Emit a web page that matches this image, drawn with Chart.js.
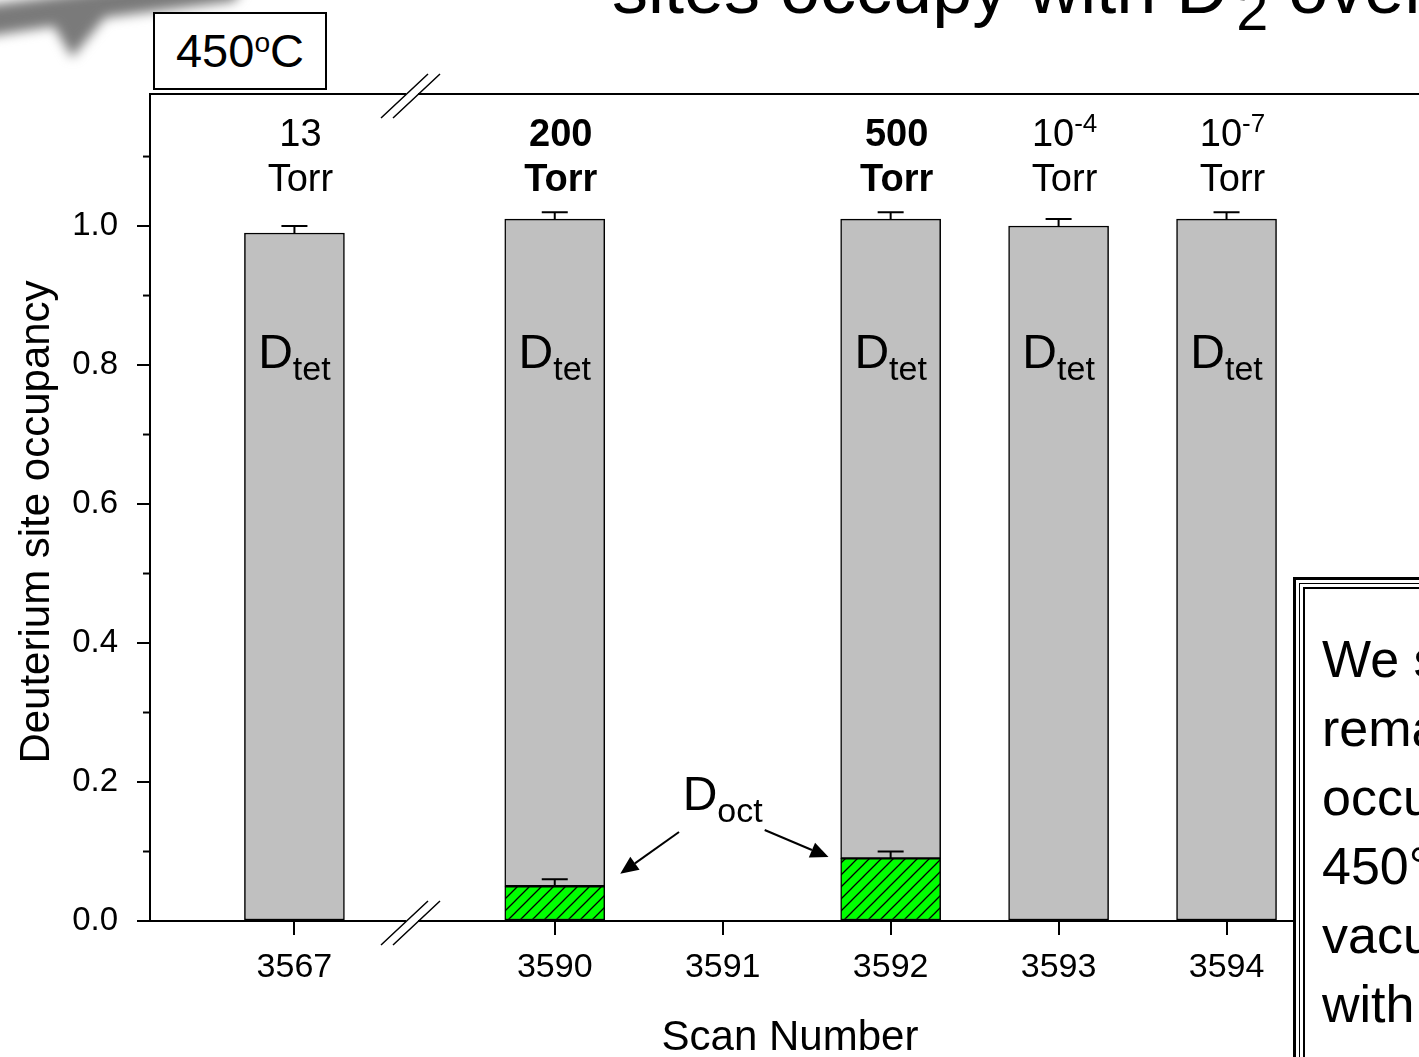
<!DOCTYPE html>
<html>
<head>
<meta charset="utf-8">
<script src="https://cdn.jsdelivr.net/npm/chart.js@4.4.0/dist/chart.umd.min.js"></script>
<style>
html,body{margin:0;padding:0;background:#fff;overflow:hidden;width:1419px;height:1057px;position:relative;font-family:"Liberation Sans",Arial,sans-serif;color:#000}
#wrap{position:absolute;left:0;top:0;width:1700px;height:1057px}
#title{position:absolute;left:612px;top:-48px;font-size:72px;line-height:72px;white-space:nowrap}
#title sub{font-size:0.8em;vertical-align:-0.3em;line-height:0;margin-left:8px}
#swoosh{position:absolute;left:-30px;top:-30px;width:300px;height:125px;filter:blur(6px)}
#swoosh div{position:absolute;left:0;top:0;width:100%;height:100%;background:#7a7a7a;clip-path:polygon(0% 30%,95% 0%,88% 25%,45% 38%,34% 70%,28% 45%,0% 55%)}
#temp{position:absolute;left:153px;top:12px;width:170px;height:74px;border:2px solid #000;background:#fff;font-size:47px;line-height:74px;text-align:center}
#temp sup{font-size:0.6em;vertical-align:0.55em;line-height:0}
#note{position:absolute;left:1293px;top:577px;width:400px;height:600px;border:3px solid #000;padding:3px;background:#fff}
#note .b2{border:1px solid #000;padding:3px;height:100%}
#note .b3{border:2px solid #000;height:100%;padding:36px 0 0 17px;font-size:52px;line-height:69px;white-space:nowrap}
</style>
</head>
<body>
<div id="swoosh"><div></div></div>
<div id="title">sites occupy with D<sub>2</sub> overpressure</div>
<div id="wrap"><canvas id="c" width="1700" height="1057"></canvas></div>
<div id="temp">450<sup>o</sup>C</div>
<div id="note"><div class="b2"><div class="b3">We see D<br>remains<br>occupying<br>450°C in<br>vacuum<br>with no</div></div></div>
<script>
// values
const scans     = [3567, 3590, 3591, 3592, 3593, 3594];
const dOct      = [null, 0.05, null, 0.09, null, null];
const dTet      = [0.99, 0.96, null, 0.92, 1.00, 1.01];
const errTot    = [0.01, 0.01, null, 0.01, 0.01, 0.01];
const errOct    = [null, 0.01, null, 0.01, null, null];
const pressVal  = ['13', '200', null, '500', '10', '10'];
const pressExp  = [null, null, null, null, '-4', '-7'];
const pressBold = [false, true, false, true, false, false];
const yMajor = [0, 0.2, 0.4, 0.6, 0.8, 1.0];
const yMinor = [0.1, 0.3, 0.5, 0.7, 0.9, 1.1];

// broken x axis: everything before 3590 is pulled in next to the break
const BREAK_AT = 3590, BREAK_GAP = 1.55, BREAK_MARK = 3589.15;
function axisPos(s){ return s >= BREAK_AT ? s : BREAK_AT - BREAK_GAP }

const FONT = '"Liberation Sans", Arial, sans-serif';
function f(px, bold){ return (bold ? 'bold ' : '') + px + 'px ' + FONT }

function hatch(ctx){
  var c = document.createElement('canvas'); c.width = 12; c.height = 12;
  var g = c.getContext('2d');
  g.fillStyle = '#00ff00'; g.fillRect(0, 0, 12, 12);
  g.strokeStyle = '#000'; g.lineWidth = 1.3;
  g.beginPath();
  g.moveTo(0, 12); g.lineTo(12, 0);
  g.moveTo(-6, 6); g.lineTo(6, -6);
  g.moveTo(6, 18); g.lineTo(18, 6);
  g.stroke();
  return ctx.createPattern(c, 'repeat');
}

// base text with a lowered (dy>0) or raised (dy<0) smaller part, centred on cx
function subText(ctx, base, small, cx, y, bigPx, smallPx, dy, bold){
  ctx.font = f(bigPx, bold); var w1 = ctx.measureText(base).width;
  ctx.font = f(smallPx, bold); var w2 = small ? ctx.measureText(small).width : 0;
  var x = cx - (w1 + w2) / 2;
  ctx.textAlign = 'left';
  ctx.font = f(bigPx, bold); ctx.fillText(base, x, y);
  if (small){ ctx.font = f(smallPx, bold); ctx.fillText(small, x + w1, y + dy); }
}

function arrow(ctx, x1, y1, x2, y2){
  var a = Math.atan2(y2 - y1, x2 - x1), L = 18, W = 8;
  var bx = x2 - L * Math.cos(a), by = y2 - L * Math.sin(a);
  ctx.lineWidth = 2;
  ctx.beginPath(); ctx.moveTo(x1, y1); ctx.lineTo(bx, by); ctx.stroke();
  ctx.beginPath(); ctx.moveTo(x2, y2);
  ctx.lineTo(bx + W * Math.sin(a), by - W * Math.cos(a));
  ctx.lineTo(bx - W * Math.sin(a), by + W * Math.cos(a));
  ctx.closePath(); ctx.fill();
}

const extras = {
  id: 'extras',
  afterDatasetsDraw(chart){
    var ctx = chart.ctx, xs = chart.scales.x, ys = chart.scales.y;
    ctx.save();
    ctx.strokeStyle = '#000'; ctx.fillStyle = '#000'; ctx.lineWidth = 2;
    // error bars (up only)
    scans.forEach(function(s, i){
      var x = xs.getPixelForValue(axisPos(s));
      function eb(top, e){
        if (e == null) return;
        var y0 = ys.getPixelForValue(top), y1 = ys.getPixelForValue(top + e);
        ctx.beginPath(); ctx.moveTo(x, y0); ctx.lineTo(x, y1);
        ctx.moveTo(x - 13, y1); ctx.lineTo(x + 13, y1); ctx.stroke();
      }
      if (dTet[i] != null) eb((dOct[i] || 0) + dTet[i], errTot[i]);
      if (dOct[i] != null) eb(dOct[i], errOct[i]);
    });
    // D_tet inside the grey bars
    ctx.textBaseline = 'alphabetic';
    scans.forEach(function(s, i){
      if (dTet[i] == null) return;
      subText(ctx, 'D', 'tet', xs.getPixelForValue(axisPos(s)), ys.getPixelForValue(0.8) + 3, 48, 34, 12);
    });
    ctx.restore();
  },
  afterDraw(chart){
    var ctx = chart.ctx, a = chart.chartArea, xs = chart.scales.x, ys = chart.scales.y;
    ctx.save();
    ctx.strokeStyle = '#000'; ctx.fillStyle = '#000'; ctx.lineWidth = 2;
    // top frame line
    ctx.beginPath(); ctx.moveTo(a.left - 1, a.top); ctx.lineTo(chart.width, a.top); ctx.stroke();
    // minor y ticks
    yMinor.forEach(function(v){
      var y = ys.getPixelForValue(v);
      ctx.beginPath(); ctx.moveTo(a.left - 7, y); ctx.lineTo(a.left, y); ctx.stroke();
    });
    // axis break marks on top and bottom
    var bx = xs.getPixelForValue(BREAK_MARK);
    [a.top, a.bottom].forEach(function(y){
      ctx.fillStyle = '#fff'; ctx.fillRect(bx - 6, y - 3, 12, 6);
      ctx.lineWidth = 1.5; ctx.beginPath();
      ctx.moveTo(bx - 31, y + 24); ctx.lineTo(bx + 16, y - 20);
      ctx.moveTo(bx - 19, y + 24); ctx.lineTo(bx + 28, y - 20);
      ctx.stroke();
    });
    ctx.fillStyle = '#000'; ctx.lineWidth = 2;
    // pressure labels above bars
    ctx.textBaseline = 'middle';
    scans.forEach(function(s, i){
      if (pressVal[i] == null) return;
      var x = xs.getPixelForValue(axisPos(s)) + 6;
      subText(ctx, pressVal[i], pressExp[i], x, a.top + 42, 38, 26, -11, pressBold[i]);
      subText(ctx, 'Torr', null, x, a.top + 87, 38, 26, 0, pressBold[i]);
    });
    // D_oct note with arrows
    ctx.textBaseline = 'alphabetic';
    subText(ctx, 'D', 'oct', xs.getPixelForValue(3591), ys.getPixelForValue(0.16), 48, 34, 12);
    arrow(ctx, xs.getPixelForValue(3590.74), ys.getPixelForValue(0.128), xs.getPixelForValue(3590.39), ys.getPixelForValue(0.068));
    arrow(ctx, xs.getPixelForValue(3591.25), ys.getPixelForValue(0.131), xs.getPixelForValue(3591.63), ys.getPixelForValue(0.092));
    // axis titles
    ctx.textAlign = 'center'; ctx.textBaseline = 'middle'; ctx.font = f(42);
    ctx.fillText('Scan Number', 790, 1038);
    ctx.translate(37, 522); ctx.rotate(-Math.PI / 2);
    ctx.fillText('Deuterium site occupancy', 0, 0);
    ctx.restore();
  }
};

const ctx = document.getElementById('c').getContext('2d');
new Chart(ctx, {
  type: 'bar',
  data: {
    datasets: [
      { label: 'D oct', data: scans.map(function(s, i){ return { x: axisPos(s), y: dOct[i] } }),
        backgroundColor: hatch(ctx), borderColor: '#000', borderWidth: 1.5, borderSkipped: false, barThickness: 100 },
      { label: 'D tet', data: scans.map(function(s, i){ return { x: axisPos(s), y: dTet[i] } }),
        backgroundColor: '#c0c0c0', borderColor: '#000', borderWidth: 1.5, borderSkipped: false, barThickness: 100 }
    ]
  },
  options: {
    responsive: false,
    animation: false,
    devicePixelRatio: 1,
    layout: { padding: { top: 94, right: 20, left: 0, bottom: 0 } },
    plugins: { legend: { display: false }, tooltip: { enabled: false } },
    scales: {
      x: {
        type: 'linear', stacked: true, offset: false, min: 3587.59, max: 3596.70,
        afterBuildTicks: function(s){ s.ticks = scans.map(function(v){ return { value: axisPos(v) } }) },
        afterFit: function(s){ s.height = 136 },
        ticks: { autoSkip: false, maxRotation: 0, color: '#000', font: { size: 34, family: FONT }, padding: 12,
          callback: function(v, i){ return String(scans[i]) } },
        grid: { offset: false, drawOnChartArea: false, tickLength: 14, color: '#000', lineWidth: 2 },
        border: { color: '#000', width: 2 }
      },
      y: {
        stacked: true, min: 0, max: 1.19,
        afterBuildTicks: function(s){ s.ticks = yMajor.map(function(v){ return { value: v } }) },
        afterFit: function(s){ s.width = 150 },
        ticks: { color: '#000', font: { size: 33, family: FONT }, padding: 19,
          callback: function(v){ return v.toFixed(1) } },
        grid: { drawOnChartArea: false, tickLength: 13, color: '#000', lineWidth: 2 },
        border: { color: '#000', width: 2 }
      }
    }
  },
  plugins: [extras]
});
</script>
</body>
</html>
